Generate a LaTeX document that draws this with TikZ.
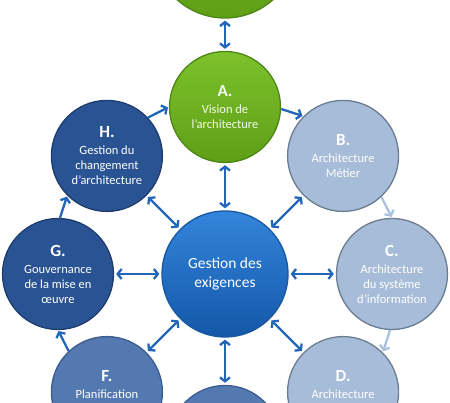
\documentclass[tikz,border=0pt]{standalone}
\usepackage{fontspec}
\setmainfont{Carlito}
\usetikzlibrary{arrows.meta,calc}

\definecolor{vertclair}{HTML}{7DC12C}
\definecolor{vertfonce}{HTML}{5E9F16}
\definecolor{vertbord}{HTML}{4D8614}
\definecolor{marine}{HTML}{2A5393}
\definecolor{marinebord}{HTML}{1E3D6E}
\definecolor{moyen}{HTML}{5479B0}
\definecolor{moyenbord}{HTML}{3B5C8E}
\definecolor{pale}{HTML}{A7BCD8}
\definecolor{palebord}{HTML}{6C7D92}
\definecolor{centrehaut}{HTML}{3385DB}
\definecolor{centrebas}{HTML}{1457A8}
\definecolor{centrebord}{HTML}{1A58A0}
\definecolor{fleche}{HTML}{2166B8}
\definecolor{flechepale}{HTML}{A9C0DE}

\tikzset{
  phase/.style={circle,draw,line width=1.3pt,minimum size=111pt,inner sep=0pt,
    align=center,text=white,font=\fontsize{12.5}{15}\selectfont},
  vision/.style={phase,top color=vertclair,bottom color=vertfonce,draw=vertbord,
    text=white!92!vertclair},
  fonce/.style={phase,fill=marine,draw=marinebord},
  moyen/.style={phase,fill=moyen,draw=moyenbord},
  clair/.style={phase,fill=pale,draw=palebord},
  lien/.style={draw=fleche,line width=2.3pt,
    {Straight Barb[length=4pt,width=10pt]}-{Straight Barb[length=4pt,width=10pt]},
    shorten <=2pt,shorten >=2pt},
  suite/.style={draw=fleche,line width=2.3pt,-{Straight Barb[length=4pt,width=10pt]},
    shorten >=1pt},
  suitepale/.style={suite,draw=flechepale},
}
\newcommand{\lettre}[1]{{\fontsize{17}{17}\selectfont\bfseries #1}\\[2pt]}

\begin{document}
\begin{tikzpicture}[x=1pt,y=1pt]
  \useasboundingbox (0,0) rectangle (450,403);
  \clip (0,0) rectangle (450,403);
  \coordinate (M) at (225,129);
  \node[phase,minimum size=126pt,top color=centrehaut,bottom color=centrebas,
        draw=centrebord,font=\fontsize{15.5}{19}\selectfont] (exig) at (M)
        {Gestion des\\exigences};
  \node[vision,minimum size=144pt] (P) at (225,457) {};
  \node[vision] (A) at ($(M)+(90:167)$) {\lettre{A.}Vision de\\l’architecture};
  \node[clair] (B) at ($(M)+(45:167)$) {\lettre{B.}Architecture\\Métier};
  \node[clair] (C) at ($(M)+(0:167)$) {\lettre{C.}Architecture\\du système\\d’information};
  \node[clair] (D) at ($(M)+(-45:167)$) {\lettre{D.}Architecture\\};
  \node[moyen] (E) at ($(M)+(-90:167)$) {};
  \node[moyen] (F) at ($(M)+(-135:167)$) {\lettre{F.}Planification\\};
  \node[fonce] (G) at ($(M)+(180:167)$) {\lettre{G.}Gouvernance\\de la mise en\\œuvre};
  \node[fonce] (H) at ($(M)+(135:167)$) {\lettre{H.}Gestion du\\changement\\d’architecture};

  \draw[lien] (P) -- (A);
  \foreach \n in {A,B,C,D,E,F,G,H}
    \draw[lien] (exig) -- (\n);

  \draw[suite] (H.43) -- (A.180);
  \draw[suite] (A.-2) -- (B.135);
  \draw[suitepale] (B.-47) -- (C.90);
  \draw[suitepale] (C.-92) -- (D.45);
  \draw[suite] (F.133) -- (G.270);
  \draw[suite] (G.88) -- (H.225);
\end{tikzpicture}
\end{document}
